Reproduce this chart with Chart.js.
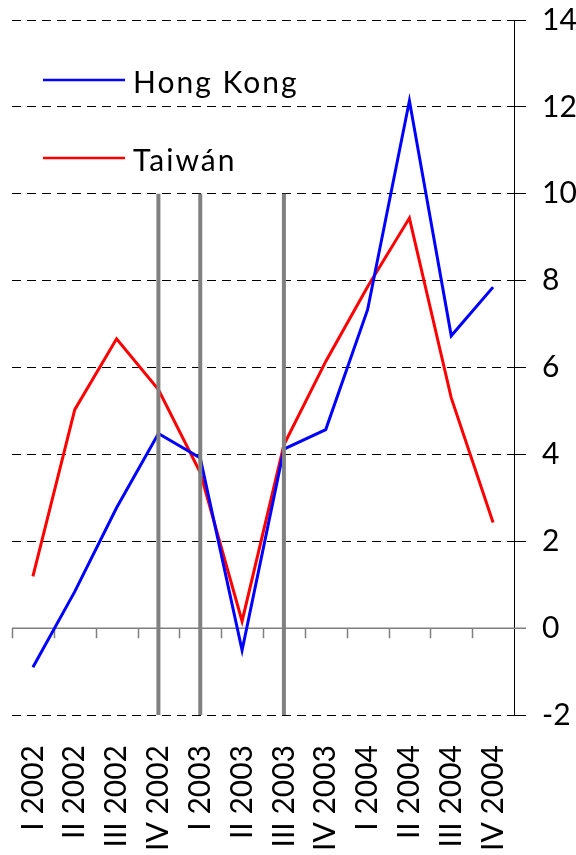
<!DOCTYPE html>
<html lang="es">
<head>
    <meta charset="UTF-8"/>
    <title>Hong Kong y Taiwán</title>
    <script src="https://cdn.jsdelivr.net/npm/chart.js"></script>
    <style>
        html, body {
            margin: 0;
            padding: 0;
            background: #fff;
        }
        .chart-box {
            position: relative;
            width: 576px;
            height: 855px;
        }
    </style>
</head>
<body>
<div class="chart-box">
    <canvas id="growthChart"></canvas>
</div>

<script>
    // quarters on the x axis
    const quarters = ['I 2002', 'II 2002', 'III 2002', 'IV 2002',
                      'I 2003', 'II 2003', 'III 2003', 'IV 2003',
                      'I 2004', 'II 2004', 'III 2004', 'IV 2004'];

    // values
    const hongKong = [-0.9, 0.84, 2.77, 4.48, 3.92, -0.51, 4.12, 4.57, 7.33, 12.14, 6.73, 7.85];
    const taiwan   = [1.19, 5.03, 6.66, 5.49, 3.58, 0.16, 4.22, 6.14, 7.86, 9.44, 5.3, 2.43];

    // y axis ticks
    const yTicks = [-2, 0, 2, 4, 6, 8, 10, 12, 14];

    // quarters marked with grey vertical bars, and the range they cover
    const markedQuarters = ['IV 2002', 'I 2003', 'III 2003'];
    const markTop = 10;
    const markBottom = -2;

    const fontName = 'Lato, "Open Sans", sans-serif';

    // zero axis line with category tick marks, and the grey marker bars
    const extrasPlugin = {
        id: 'extras',
        beforeDatasetsDraw(chart) {
            const {ctx, chartArea, scales} = chart;
            const y0 = scales.y.getPixelForValue(0);
            ctx.save();
            ctx.strokeStyle = '#7f7f7f';
            ctx.lineWidth = 1.5;
            ctx.beginPath();
            ctx.moveTo(chartArea.left, y0);
            ctx.lineTo(chartArea.right + 12, y0);
            const step = (chartArea.right - chartArea.left) / quarters.length;
            for (let i = 0; i < quarters.length; i++) {
                const x = Math.round(chartArea.left + i * step) + 0.5;
                ctx.moveTo(x, y0);
                ctx.lineTo(x, y0 + 10);
            }
            ctx.stroke();
            ctx.restore();
        },
        afterDatasetsDraw(chart) {
            const {ctx, scales} = chart;
            ctx.save();
            ctx.strokeStyle = '#808080';
            ctx.lineWidth = 4;
            markedQuarters.forEach(q => {
                const x = scales.x.getPixelForValue(quarters.indexOf(q));
                ctx.beginPath();
                ctx.moveTo(x, scales.y.getPixelForValue(markTop));
                ctx.lineTo(x, scales.y.getPixelForValue(markBottom));
                ctx.stroke();
            });
            ctx.restore();
        },
        afterDraw(chart) {
            // legend inside the plot, top left
            const {ctx} = chart;
            ctx.save();
            ctx.font = '30px ' + fontName;
            ctx.textBaseline = 'middle';
            ctx.fillStyle = '#000';
            if ('letterSpacing' in ctx) ctx.letterSpacing = '2px';
            const rows = [80, 158];
            chart.data.datasets.forEach((ds, i) => {
                ctx.strokeStyle = ds.borderColor;
                ctx.lineWidth = 2.5;
                ctx.beginPath();
                ctx.moveTo(43, rows[i]);
                ctx.lineTo(125, rows[i]);
                ctx.stroke();
                ctx.fillText(ds.label, 133, rows[i] + 3);
            });
            ctx.restore();
        }
    };

    const growthChart = new Chart(document.getElementById('growthChart'), {
        type: 'line',
        data: {
            labels: quarters,
            datasets: [
                {
                    label: 'Hong Kong',
                    data: hongKong,
                    borderColor: '#0000ff',
                    borderWidth: 3,
                    pointRadius: 0,
                    tension: 0
                },
                {
                    label: 'Taiwán',
                    data: taiwan,
                    borderColor: '#ff0000',
                    borderWidth: 3,
                    pointRadius: 0,
                    tension: 0
                }
            ]
        },
        options: {
            responsive: true,
            maintainAspectRatio: false,
            animation: false,
            layout: {
                padding: {top: 20, left: 12, right: 0, bottom: 0}
            },
            plugins: {
                legend: {display: false},
                tooltip: {enabled: false}
            },
            scales: {
                x: {
                    type: 'category',
                    offset: true,
                    grid: {display: false},
                    border: {display: false},
                    ticks: {
                        color: '#000',
                        font: {family: fontName, size: 30},
                        maxRotation: 90,
                        minRotation: 90,
                        autoSkip: false,
                        padding: 22
                    },
                    afterFit(scale) {
                        scale.height = 140;
                        scale.paddingLeft = 0;
                        scale.paddingRight = 0;
                    }
                },
                y: {
                    position: 'right',
                    min: -2,
                    max: 14,
                    afterBuildTicks(scale) {
                        scale.ticks = yTicks.map(v => ({value: v}));
                    },
                    grid: {
                        color: ctx => ctx.tick && ctx.tick.value === 0 ? 'rgba(0,0,0,0)' : '#000',
                        lineWidth: 1,
                        tickLength: 12,
                        tickColor: ctx => ctx.tick && ctx.tick.value === 0 ? 'rgba(0,0,0,0)' : '#000'
                    },
                    border: {
                        display: true,
                        color: '#000',
                        width: 1,
                        dash: [9, 6]
                    },
                    ticks: {
                        color: '#000',
                        font: {family: fontName, size: 30},
                        padding: 16
                    },
                    afterFit(scale) {
                        scale.width = 62;
                        scale.paddingTop = 0;
                        scale.paddingBottom = 0;
                    }
                }
            }
        },
        plugins: [extrasPlugin]
    });
</script>
</body>
</html>
